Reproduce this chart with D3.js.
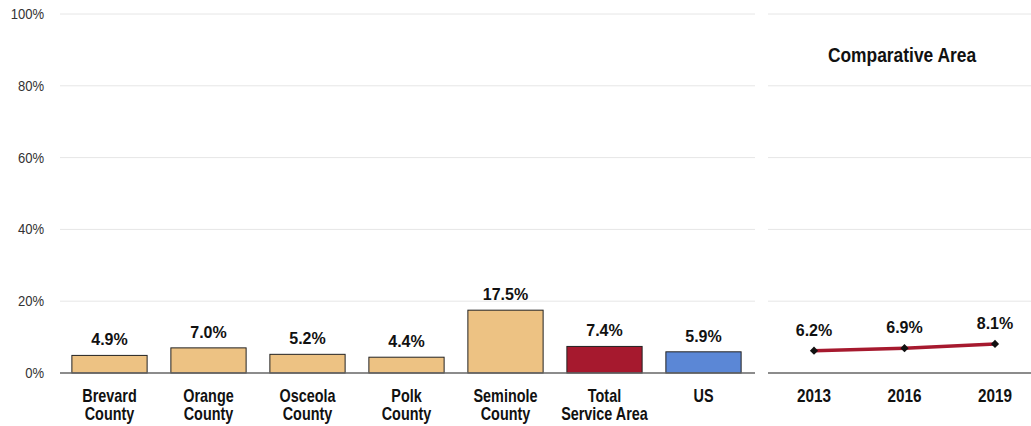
<!DOCTYPE html>
<html>
<head>
<meta charset="utf-8">
<script src="https://cdn.jsdelivr.net/npm/d3@7"></script>
<style>
  body { margin: 0; background: #fff; }
  text { font-family: "Liberation Sans", Arial, sans-serif; }
</style>
</head>
<body>
<div id="chart"></div>
<script>
var categories = ["Brevard County", "Orange County", "Osceola County", "Polk County", "Seminole County", "Total Service Area", "US"];
var values = [4.9, 7.0, 5.2, 4.4, 17.5, 7.4, 5.9];
var years = ["2013", "2016", "2019"];
var trend = [6.2, 6.9, 8.1];
var yTicks = [0, 20, 40, 60, 80, 100];

var W = 1031, H = 426;
var plotTop = 14, plotBottom = 373;

var svg = d3.select("#chart").append("svg")
  .attr("width", W)
  .attr("height", H);

var y = d3.scaleLinear().domain([0, 100]).range([plotBottom, plotTop]);

// left panel
var x = d3.scaleBand().domain(categories).range([60, 753]).paddingInner(0.24).paddingOuter(0.12);
// right panel
var x2 = d3.scalePoint().domain(years).range([814, 995]);

function colorFor(d) {
  if (d == "Total Service Area") return "#A6192E";
  if (d == "US") return "#5B87D6";
  return "#EDC283";
}

// narrow-looking text: squeeze horizontally
function squeeze(px, py, s) {
  return "translate(" + px + "," + py + ") scale(" + s + ",1)";
}

// gridlines
[[60, 755], [768, 1031]].forEach(function(r) {
  svg.append("g").selectAll("line")
    .data(yTicks.slice(1))
    .join("line")
    .attr("x1", r[0]).attr("x2", r[1])
    .attr("y1", function(d) { return y(d); })
    .attr("y2", function(d) { return y(d); })
    .attr("stroke", "#e6e6e6")
    .attr("stroke-width", 1);
});

// y labels
svg.append("g").selectAll("text")
  .data(yTicks)
  .join("text")
  .attr("transform", function(d) { return squeeze(44, y(d) + 5, 0.87); })
  .attr("text-anchor", "end")
  .style("font-size", "15px")
  .style("fill", "#333")
  .text(function(d) { return d + "%"; });

// bars
svg.append("g").selectAll("rect")
  .data(values)
  .join("rect")
  .attr("x", function(d, i) { return x(categories[i]); })
  .attr("y", function(d) { return y(d); })
  .attr("width", x.bandwidth())
  .attr("height", function(d) { return plotBottom - y(d); })
  .attr("fill", function(d, i) { return colorFor(categories[i]); })
  .attr("stroke", "#222")
  .attr("stroke-width", 1);

svg.append("g").selectAll("text")
  .data(values)
  .join("text")
  .attr("x", function(d, i) { return x(categories[i]) + x.bandwidth() / 2; })
  .attr("y", function(d) { return y(d) - 10; })
  .attr("text-anchor", "middle")
  .style("font-size", "16px")
  .style("font-weight", "bold")
  .style("fill", "#111")
  .text(function(d) { return d.toFixed(1) + "%"; });

// x labels, split on two lines
var lines = {
  "Brevard County": ["Brevard", "County"],
  "Orange County": ["Orange", "County"],
  "Osceola County": ["Osceola", "County"],
  "Polk County": ["Polk", "County"],
  "Seminole County": ["Seminole", "County"],
  "Total Service Area": ["Total", "Service Area"],
  "US": ["US"]
};
var xl = svg.append("g").selectAll("text")
  .data(categories)
  .join("text")
  .attr("transform", function(d) { return squeeze(x(d) + x.bandwidth() / 2, 402, 0.8); })
  .attr("text-anchor", "middle")
  .style("font-size", "18px")
  .style("font-weight", "bold")
  .style("fill", "#111");
xl.each(function(d) {
  var t = d3.select(this);
  lines[d].forEach(function(s, i) {
    t.append("tspan")
      .attr("x", 0)
      .attr("dy", i == 0 ? 0 : 18)
      .text(s);
  });
});

// baselines
[[60, 755], [768, 1031]].forEach(function(r) {
  svg.append("line")
    .attr("x1", r[0]).attr("x2", r[1])
    .attr("y1", plotBottom).attr("y2", plotBottom)
    .attr("stroke", "#666")
    .attr("stroke-width", 1.5);
});

// right panel
svg.append("text")
  .attr("transform", squeeze(902, 62, 0.87))
  .attr("text-anchor", "middle")
  .style("font-size", "20px")
  .style("font-weight", "bold")
  .style("fill", "#111")
  .text("Comparative Area");

var line = d3.line()
  .x(function(d, i) { return x2(years[i]); })
  .y(function(d) { return y(d); });

svg.append("path")
  .datum(trend)
  .attr("d", line)
  .attr("fill", "none")
  .attr("stroke", "#A6192E")
  .attr("stroke-width", 3.5);

// square diamonds
svg.append("g").selectAll("path")
  .data(trend)
  .join("path")
  .attr("transform", function(d, i) { return "translate(" + x2(years[i]) + "," + y(d) + ") rotate(45)"; })
  .attr("d", d3.symbol().type(d3.symbolSquare).size(34))
  .attr("fill", "#111");

svg.append("g").selectAll("text")
  .data(trend)
  .join("text")
  .attr("x", function(d, i) { return x2(years[i]); })
  .attr("y", function(d) { return y(d) - 15; })
  .attr("text-anchor", "middle")
  .style("font-size", "16px")
  .style("font-weight", "bold")
  .style("fill", "#111")
  .text(function(d) { return d.toFixed(1) + "%"; });

svg.append("g").selectAll("text")
  .data(years)
  .join("text")
  .attr("transform", function(d) { return squeeze(x2(d), 402, 0.85); })
  .attr("text-anchor", "middle")
  .style("font-size", "18px")
  .style("font-weight", "bold")
  .style("fill", "#111")
  .text(function(d) { return d; });
</script>
</body>
</html>
